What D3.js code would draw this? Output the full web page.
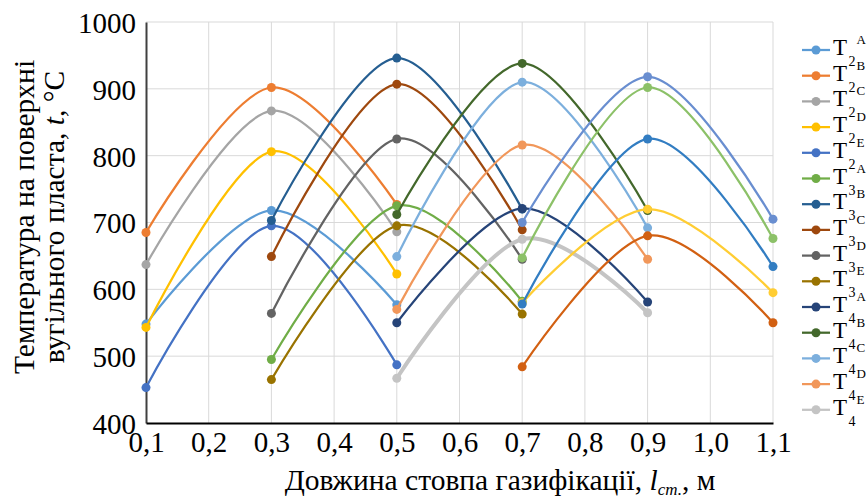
<!DOCTYPE html>
<html><head><meta charset="utf-8">
<script src="https://cdn.jsdelivr.net/npm/d3@7/dist/d3.min.js"></script>
<style>body{margin:0;background:#fff}svg{display:block}</style>
</head><body>
<svg id="chart" width="867" height="500"></svg>
<script>
// ---- data ----
const xTicks = [0.1, 0.2, 0.3, 0.4, 0.5, 0.6, 0.7, 0.8, 0.9, 1.0, 1.1];
const xTickLabels = ["0,1","0,2","0,3","0,4","0,5","0,6","0,7","0,8","0,9","1,0","1,1"];
const yTicks = [400, 500, 600, 700, 800, 900, 1000];
const yTickLabels = ["400","500","600","700","800","900","1000"];

const x2 = [0.1, 0.3, 0.5];
const x3 = [0.3, 0.5, 0.7];
const x4 = [0.5, 0.7, 0.9];
const x5 = [0.7, 0.9, 1.1];

const T2A = [548, 718, 577];
const T2B = [685, 902, 727];
const T2C = [637, 867, 686];
const T2D = [543, 806, 623];
const T2E = [453, 695, 487];
const T3A = [495, 725, 582];
const T3B = [703, 946, 720];
const T3C = [649, 907, 689];
const T3D = [564, 825, 645];
const T3E = [465, 695, 563];
const T4A = [550, 721, 581];
const T4B = [712, 938, 718];
const T4C = [649, 910, 692];
const T4D = [570, 816, 645];
const T4E = [467, 675, 565];
const T5A = [580, 720, 595];
const T5B = [700, 918, 705];
const T5C = [647, 902, 676];
const T5D = [578, 825, 634];
const T5E = [484, 680, 550];

const seriesSub = ["2","2","2","2","2","3","3","3","3","3","4","4","4","4","4","5","5","5","5","5"];
const seriesSup = ["A","B","C","D","E","A","B","C","D","E","A","B","C","D","E","A","B","C","D","E"];
const seriesX = [x2,x2,x2,x2,x2,x3,x3,x3,x3,x3,x4,x4,x4,x4,x4,x5,x5,x5,x5,x5];
const seriesY = [T2A,T2B,T2C,T2D,T2E,T3A,T3B,T3C,T3D,T3E,T4A,T4B,T4C,T4D,T4E,T5A,T5B,T5C,T5D,T5E];
const colors = ["#5B9BD5","#ED7D31","#A5A5A5","#FFC000","#4472C4","#70AD47",
                "#255E91","#9E480E","#636363","#997300","#264478","#43682B",
                "#7CAFDD","#F1975A","#C4C4C4","#FFCD33","#698ED0","#8CC168",
                "#327DC2","#D26012"];
const legendCount = 15;

// ---- chart ----
const svg = d3.select("#chart");
const FONT = "'Liberation Serif','Times New Roman',serif";
const L = 146, R = 773, T = 22, B = 423;
const x = d3.scaleLinear().domain([0.1, 1.1]).range([L, R]);
const y = d3.scaleLinear().domain([400, 1000]).range([B, T]);

// grid
svg.append("g").selectAll("line").data(yTicks.filter(d => d > 400)).join("line")
  .attr("x1", L).attr("x2", R).attr("y1", d => y(d)).attr("y2", d => y(d))
  .attr("stroke", "#D9D9D9").attr("stroke-width", 1);
svg.append("g").selectAll("line").data(xTicks.slice(1)).join("line")
  .attr("x1", d => x(d)).attr("x2", d => x(d)).attr("y1", T).attr("y2", B)
  .attr("stroke", "#D9D9D9").attr("stroke-width", 1);

// axes
const yAxis = svg.append("g").attr("transform", `translate(${L},0)`)
  .call(d3.axisLeft(y).tickValues(yTicks).tickFormat((d, i) => yTickLabels[i]).tickSize(0).tickPadding(10));
yAxis.select(".domain").attr("stroke", "#404040").attr("stroke-width", 2);
yAxis.selectAll("text").attr("font-family", FONT).attr("font-size", 29).attr("fill", "#000").attr("dy", "0.36em");

const xAxis = svg.append("g").attr("transform", `translate(0,${B})`)
  .call(d3.axisBottom(x).tickValues(xTicks).tickFormat((d, i) => xTickLabels[i]).tickSize(0).tickPadding(8));
xAxis.select(".domain").attr("stroke", "#000").attr("stroke-width", 2);
xAxis.selectAll("text").attr("font-family", FONT).attr("font-size", 29).attr("fill", "#000");

// series
const line = d3.line().curve(d3.curveCardinal.tension(0)).x(d => x(d[0])).y(d => y(d[1]));
seriesY.forEach((vals, i) => {
  const pts = vals.map((v, j) => [seriesX[i][j], v]);
  const g = svg.append("g");
  g.append("path").attr("d", line(pts)).attr("fill", "none")
    .attr("stroke", colors[i]).attr("stroke-width", i === 14 ? 4 : 2.25);
  g.selectAll("circle").data(pts).join("circle")
    .attr("cx", d => x(d[0])).attr("cy", d => y(d[1])).attr("r", 4.5)
    .attr("fill", colors[i]);
});

// legend
const lg = svg.append("g").attr("font-family", FONT).attr("fill", "#000");
for (let i = 0; i < legendCount; i++) {
  const cy = 50 + i * 25.7;
  lg.append("line").attr("x1", 802).attr("x2", 830).attr("y1", cy).attr("y2", cy)
    .attr("stroke", colors[i]).attr("stroke-width", 2.25);
  lg.append("circle").attr("cx", 816).attr("cy", cy).attr("r", 4.5).attr("fill", colors[i]);
  lg.append("text").attr("x", 833).attr("y", cy + 5).attr("font-size", 23).text("T");
  lg.append("text").attr("x", 848.5).attr("y", cy + 16).attr("font-size", 14).text(seriesSub[i]);
  lg.append("text").attr("x", 856.5).attr("y", cy - 6).attr("font-size", 13).text(seriesSup[i]);
}

// y title
const yt = svg.append("text").attr("transform", "translate(0,217) rotate(-90)")
  .attr("font-family", FONT).attr("font-size", 29.5).attr("fill", "#000").attr("text-anchor", "middle");
yt.append("tspan").attr("x", 0).attr("y", 34).text("Температура на поверхні");
yt.append("tspan").attr("x", 0).attr("y", 64).text("вугільного пласта, ");
yt.append("tspan").attr("font-style", "italic").text("t");
yt.append("tspan").text(", °C");

// x title
const xt = svg.append("text").attr("x", 500).attr("y", 490)
  .attr("font-family", FONT).attr("font-size", 29.5).attr("fill", "#000").attr("text-anchor", "middle");
xt.append("tspan").text("Довжина стовпа газифікації, ");
xt.append("tspan").attr("font-style", "italic").text("l");
xt.append("tspan").attr("font-style", "italic").attr("font-size", 17).attr("dy", 5).text("ст.");
xt.append("tspan").attr("dy", -5).text(", м");
</script>
</body></html>
